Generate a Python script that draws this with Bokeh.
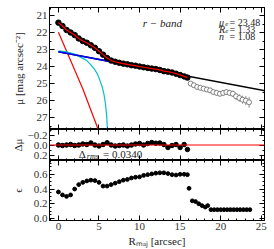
from bokeh.plotting import figure
from bokeh.layouts import column
from bokeh.models import Range1d, LinearAxis, FixedTicker, CustomJSTickFormatter, Span, Label
from bokeh.embed import file_html
from bokeh.resources import INLINE

# ---------------- data ----------------
r_in = [0.0, 0.5, 1.0, 1.5, 2.0, 2.5, 3.0, 3.5, 4.0, 4.5, 5.0, 5.5, 6.0, 6.5, 7.0, 7.5,
        8.0, 8.5, 9.0, 9.5, 10.0, 10.5, 11.0, 11.5, 12.0, 12.5, 13.0, 13.5, 14.0, 14.5,
        15.0, 15.5, 15.9]
mu_in = [21.42, 21.62, 21.85, 22.0, 22.15, 22.35, 22.5, 22.6, 22.75, 22.9, 23.1, 23.3,
         23.5, 23.65, 23.72, 23.78, 23.83, 23.87, 23.92, 23.95, 24.0, 24.04, 24.08, 24.12,
         24.15, 24.2, 24.27, 24.3, 24.35, 24.42, 24.5, 24.58, 24.65]
r_out = [16.3, 16.7, 17.1, 17.5, 17.9, 18.3, 18.7, 19.1, 19.5, 19.9, 20.3, 20.7, 21.1,
         21.5, 21.9, 22.3, 22.7, 23.1, 23.5]
mu_out = [25.0, 25.1, 25.2, 25.25, 25.3, 25.35, 25.4, 25.5, 25.55, 25.6, 25.55, 25.5,
          25.55, 25.6, 25.75, 25.85, 25.95, 26.0, 26.1]
mu_out_err = [0.08, 0.09, 0.1, 0.1, 0.11, 0.12, 0.13, 0.14, 0.15, 0.16, 0.16, 0.17,
              0.18, 0.19, 0.2, 0.22, 0.24, 0.27, 0.32]

# model components
bulge_r = [0.0, 1.5, 3.0, 4.8, 5.0]
bulge_mu = [21.98, 23.65, 25.3, 27.57, 27.8]
bar_r = [0.0, 1.0, 2.0, 2.3, 3.0, 3.5, 4.0, 4.5, 4.8, 5.1, 5.4, 5.6, 5.8, 5.95, 6.05]
bar_mu = [23.08, 23.14, 23.27, 23.35, 23.52, 23.65, 23.9, 24.2, 24.43, 24.8, 25.2, 25.6,
          26.2, 26.9, 27.8]
disk_inner_r = [0.0, 6.3]
disk_inner_mu = [23.13, 23.7]
disk_r = [0.0, 25.5]
disk_mu = [23.13, 25.43]

# residuals
dmu = [0.0, 0.01, 0.0, -0.01, 0.01, 0.0, -0.02, -0.01, -0.04, 0.0, 0.02, -0.01, -0.045,
       0.0, 0.02, 0.01, 0.0, 0.02, 0.0, -0.02, -0.03, 0.0, -0.03, -0.05, -0.035, -0.04,
       -0.01, 0.05, 0.01, -0.01, 0.05, -0.01, 0.09]

# ellipticity
eps_in = [0.36, 0.32, 0.30, 0.32, 0.40, 0.46, 0.49, 0.51, 0.52, 0.515, 0.49, 0.44, 0.44,
          0.46, 0.48, 0.50, 0.52, 0.53, 0.55, 0.56, 0.565, 0.585, 0.595, 0.605, 0.615,
          0.62, 0.62, 0.61, 0.595, 0.59, 0.60, 0.60, 0.595]
r_eps_out = [16.1, 16.5, 16.9, 17.3, 17.7, 18.1, 18.4, 18.8, 19.2, 19.6, 20.0, 20.4, 20.8,
             21.2, 21.6, 22.0, 22.4, 22.8, 23.2, 23.6]
eps_out = [0.41, 0.24, 0.23, 0.20, 0.175, 0.155, 0.175, 0.12, 0.12, 0.12, 0.12, 0.12,
           0.12, 0.12, 0.12, 0.12, 0.12, 0.12, 0.12, 0.12]

x_ticks = [0, 5, 10, 15, 20, 25]
mu_ticks = [21, 22, 23, 24, 25, 26, 27]
dmu_ticks = [-0.2, 0.0, 0.2]
eps_ticks = [0.0, 0.2, 0.4, 0.6]

FONT = "Liberation Serif"
FS = "11px"
TXT = "#222222"

xr = Range1d(-1.1, 25.4)


def minor(step, lo, hi):
    out = []
    v = lo
    while v <= hi + 1e-9:
        out.append(round(v, 4))
        v += step
    return out


def mk_axis(ticker, show, fmt, label=None, standoff=0):
    ax = LinearAxis(ticker=ticker)
    ax.major_tick_in = 5
    ax.major_tick_out = 0
    ax.minor_tick_in = 2
    ax.minor_tick_out = 0
    ax.axis_line_color = "black"
    ax.major_tick_line_color = "black"
    ax.minor_tick_line_color = "black"
    if show:
        ax.formatter = CustomJSTickFormatter(code=fmt)
        ax.major_label_text_font = FONT
        ax.major_label_text_font_size = FS
        ax.major_label_text_color = "#333333"
        ax.major_label_standoff = 2
    else:
        ax.formatter = CustomJSTickFormatter(code="return ''")
        ax.major_label_text_font_size = "0px"
        ax.major_label_standoff = 0
    if label is not None:
        ax.axis_label = label
        ax.axis_label_text_font = FONT
        ax.axis_label_text_font_size = FS
        ax.axis_label_text_font_style = "normal"
        ax.axis_label_text_color = TXT
        ax.axis_label_standoff = standoff
    return ax


def mk_fig(h, yr, top_b, bot_b):
    p = figure(width=268, height=h, x_range=xr, y_range=yr, output_backend="svg",
               toolbar_location=None, x_axis_location=None, y_axis_location=None,
               min_border_left=49, min_border_right=4, min_border_top=top_b,
               min_border_bottom=bot_b)
    p.xgrid.visible = False
    p.ygrid.visible = False
    p.outline_line_color = "black"
    p.outline_line_width = 1
    p.background_fill_color = "white"
    p.border_fill_color = "white"
    return p


xt = FixedTicker(ticks=x_ticks, minor_ticks=minor(1, -1, 25))
fmt_int = "return tick.toFixed(0)"
fmt_1 = "return (tick < -1e-9 ? '\\u2212' : '') + Math.abs(tick).toFixed(1)"

# ---------- top panel ----------
p1 = mk_fig(129, Range1d(27.7, 20.53), 7, 0)
yt1 = FixedTicker(ticks=mu_ticks, minor_ticks=minor(0.5, 20.5, 27.5))
p1.add_layout(mk_axis(yt1, True, fmt_int, "μ [mag arcsec⁻²]", 9), "left")
p1.add_layout(mk_axis(yt1, False, ""), "right")
p1.add_layout(mk_axis(xt, False, ""), "above")
ax_b1 = mk_axis(xt, False, "")
ax_b1.axis_line_color = "#888888"
p1.add_layout(ax_b1, "below")

p1.line(disk_r, disk_mu, line_color="black", line_width=1.5)
p1.line(bulge_r, bulge_mu, line_color="red", line_width=1.2)
p1.line(bar_r, bar_mu, line_color="#00c0c8", line_width=1.2)
p1.line(disk_inner_r, disk_inner_mu, line_color="blue", line_width=1.5)
p1.segment(x0=r_out, y0=[m - e for m, e in zip(mu_out, mu_out_err)],
           x1=r_out, y1=[m + e for m, e in zip(mu_out, mu_out_err)],
           line_color="#777777", line_width=0.8)
p1.scatter(r_out, mu_out, size=5, marker="circle", fill_color="white",
           line_color="#666666", line_width=0.8)
p1.scatter(r_in, mu_in, size=5.5, marker="circle", fill_color="black", line_color="black")
p1.line(r_in, mu_in, line_color="red", line_width=1.2)

p1.add_layout(Label(x=10.4, y=21.47, text="r − band", text_font=FONT, text_font_size=FS,
                    text_font_style="italic", text_baseline="middle", text_color=TXT))
names = ["μ", "R", "n"]
subs = ["e", "e", ""]
vals = ["= 23.48", "= 1.33", "= 1.08"]
ys = [21.4, 21.82, 22.22]
for nm, sb, vl, yy in zip(names, subs, vals, ys):
    p1.add_layout(Label(x=19.8, y=yy, text=nm, text_font=FONT, text_font_size="10px",
                        text_font_style="italic", text_baseline="middle", text_color=TXT))
    if sb:
        p1.add_layout(Label(x=20.55, y=yy + 0.12, text=sb, text_font=FONT, text_font_size="7px",
                            text_font_style="italic", text_baseline="middle", text_color=TXT))
    p1.add_layout(Label(x=21.1, y=yy, text=vl, text_font=FONT, text_font_size="10px",
                        text_baseline="middle", text_color=TXT))

# ---------- middle panel ----------
p2 = mk_fig(31, Range1d(0.31, -0.31), 0, 0)
yt2 = FixedTicker(ticks=dmu_ticks, minor_ticks=minor(0.1, -0.3, 0.3))
p2.add_layout(mk_axis(yt2, True, fmt_1, "Δμ", 1), "left")
p2.add_layout(mk_axis(yt2, False, ""), "right")
p2.add_layout(mk_axis(xt, False, ""), "above")
p2.add_layout(mk_axis(xt, False, ""), "below")
p2.add_layout(Span(location=0, dimension="width", line_color="red", line_width=1.2))
p2.scatter(r_in, dmu, size=4.5, marker="circle", fill_color="black", line_color="black")
p2.add_layout(Label(x=2.5, y=0.18, text="Δ", text_font=FONT, text_font_size=FS,
                    text_baseline="middle", text_color=TXT))
p2.add_layout(Label(x=3.5, y=0.22, text="rms", text_font=FONT, text_font_size="8px",
                    text_font_style="italic", text_baseline="middle", text_color=TXT))
p2.add_layout(Label(x=5.5, y=0.18, text="= 0.0340", text_font=FONT, text_font_size=FS,
                    text_baseline="middle", text_color=TXT))

# ---------- bottom panel ----------
p3 = mk_fig(89, Range1d(-0.027, 0.787), 0, 28)
yt3 = FixedTicker(ticks=eps_ticks, minor_ticks=minor(0.05, 0.0, 0.75))
p3.add_layout(mk_axis(yt3, True, fmt_1, "ϵ", 7), "left")
p3.add_layout(mk_axis(yt3, False, ""), "right")
p3.add_layout(mk_axis(xt, False, ""), "above")
p3.add_layout(mk_axis(xt, True, fmt_int, "Rₘₐⱼ [arcsec]", 2), "below")
p3.scatter(r_in, eps_in, size=3.8, marker="circle", fill_color="black", line_color="black")
p3.scatter(r_eps_out, eps_out, size=3.8, marker="circle", fill_color="black", line_color="black")

layout = column(p1, p2, p3, spacing=0)
open("out.html", "w").write(file_html(layout, INLINE))
